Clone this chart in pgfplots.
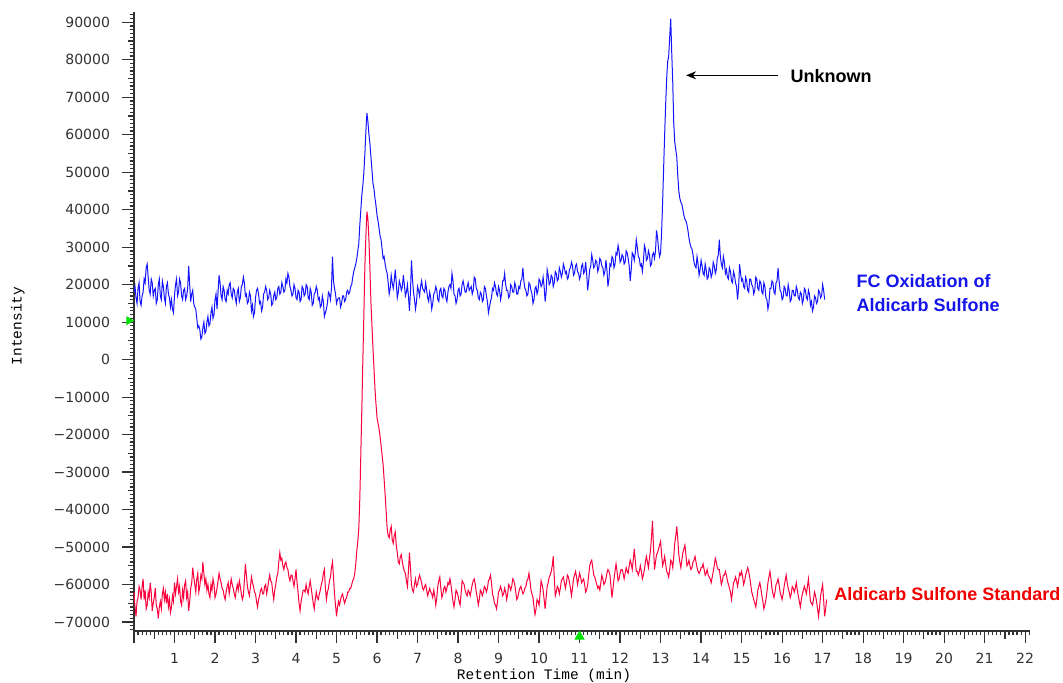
\documentclass[border=0pt]{standalone}
\usepackage{fontspec}
\setmainfont{Liberation Sans}
\newfontfamily\tickfont{DejaVu Sans}
\newfontfamily\monofont{Liberation Mono}
\usepackage{pgfplots}
\pgfplotsset{compat=1.18}
\usetikzlibrary{arrows.meta}
\definecolor{tracebl}{RGB}{20,20,255}
\definecolor{tracerd}{RGB}{250,0,60}
\definecolor{txtbl}{RGB}{20,20,235}
\definecolor{txtrd}{RGB}{240,0,0}
\definecolor{mkgreen}{RGB}{0,225,0}
\definecolor{axgray}{RGB}{50,50,50}
\begin{document}
\begin{tikzpicture}
\begin{axis}[
  at={(0,0)}, anchor=south west,
  scale only axis, width=448pt, height=309.5pt,
  xmin=0, xmax=22.12, ymin=-72400, ymax=92750,
  scaled y ticks=false, scaled x ticks=false,
  axis x line*=bottom, axis y line*=left,
  axis line style={-, axgray, line width=0.7pt},
  tick style={axgray, line width=0.6pt},
  tick align=outside,
  major tick length=6pt, minor tick length=2pt,
  xtick={0,1,...,22},
  xticklabels={{},1,2,3,4,5,6,7,8,9,10,11,12,13,14,15,16,17,18,19,20,21,22},
  minor xtick={0,0.1,...,22.1},
  extra x ticks={0.5,1.5,...,21.5},
  extra x tick labels={},
  extra x tick style={major tick length=4pt},
  ytick={-70000,-60000,...,90000},
  yticklabels={−70000,−60000,−50000,−40000,−30000,−20000,−10000,0,10000,20000,30000,40000,50000,60000,70000,80000,90000},
  minor ytick={-72000,-71000,...,92000},
  extra y ticks={-65000,-55000,...,85000},
  extra y tick labels={},
  extra y tick style={major tick length=3pt},
  tick label style={font=\tickfont\fontsize{7}{8}\selectfont, text=axgray},
  yticklabel style={xshift=-2.5pt},
  xticklabel style={yshift=-1.5pt},
  xlabel={Retention Time (min)},
  ylabel={Intensity},
  x label style={font=\monofont\fontsize{7.25}{8}\selectfont, at={(axis description cs:0.4576,0)}, anchor=center, yshift=-22.5pt},
  y label style={font=\monofont\fontsize{7.25}{8}\selectfont, at={(axis description cs:-0.1295,0.4927)}, anchor=center},
  clip=false,
]
\addplot[tracebl, line width=0.5pt] coordinates {
(0.000,18200)(0.025,19500)(0.050,16500)(0.075,15000)(0.100,19000)(0.125,20500)(0.150,15500)(0.175,14500)(0.200,17000)(0.225,18000)
(0.250,21500)(0.275,20500)(0.300,24500)(0.325,25500)(0.350,22000)(0.375,18500)(0.400,17500)(0.425,21500)(0.450,20500)(0.475,17000)
(0.500,18500)(0.525,19000)(0.550,15000)(0.575,16000)(0.600,20000)(0.625,21500)(0.650,17000)(0.675,16000)(0.700,21000)(0.725,19500)
(0.750,16500)(0.775,15000)(0.800,19500)(0.825,20500)(0.850,17500)(0.875,16500)(0.900,14000)(0.925,16000)(0.950,13500)(0.975,12500)
(1.000,17000)(1.025,20000)(1.050,21500)(1.075,17000)(1.100,18000)(1.125,21500)(1.150,20500)(1.175,17000)(1.200,16000)(1.225,18500)
(1.250,19000)(1.275,16000)(1.300,17000)(1.325,19000)(1.350,25000)(1.375,20000)(1.400,15500)(1.425,17500)(1.450,18500)(1.475,15000)
(1.500,14000)(1.525,13500)(1.550,11000)(1.575,8500)(1.600,9000)(1.625,8000)(1.650,5500)(1.675,6000)(1.700,8500)(1.725,10000)
(1.750,7000)(1.775,7500)(1.800,10000)(1.825,11500)(1.850,9000)(1.875,9500)(1.900,12500)(1.925,14000)(1.950,11000)(1.975,12000)
(2.000,16000)(2.025,17500)(2.050,13500)(2.075,18000)(2.100,22500)(2.125,20500)(2.150,17000)(2.175,16000)(2.200,19500)(2.225,18500)
(2.250,16000)(2.275,15500)(2.300,18500)(2.325,17500)(2.350,20000)(2.375,20500)(2.400,17500)(2.425,16500)(2.450,19000)(2.475,18500)
(2.500,16500)(2.525,15000)(2.550,18000)(2.575,19000)(2.600,15500)(2.625,16500)(2.650,19500)(2.675,20000)(2.700,22000)(2.725,20500)
(2.750,17000)(2.775,17500)(2.800,15000)(2.825,15500)(2.850,18000)(2.875,17000)(2.900,13000)(2.925,14500)(2.950,11500)(2.975,12500)
(3.000,16500)(3.025,18500)(3.050,19000)(3.075,17500)(3.100,15000)(3.125,15500)(3.150,13000)(3.175,14000)(3.200,17500)(3.225,18000)
(3.250,19500)(3.275,18500)(3.300,16000)(3.325,16500)(3.350,18500)(3.375,17500)(3.400,14500)(3.425,15000)(3.450,17000)(3.475,18000)
(3.500,16000)(3.525,16500)(3.550,19000)(3.575,19500)(3.600,17500)(3.625,18000)(3.650,20500)(3.675,19500)(3.700,18000)(3.725,18500)
(3.750,21500)(3.775,20500)(3.800,23000)(3.825,22000)(3.850,19500)(3.875,18500)(3.900,17000)(3.925,17500)(3.950,20000)(3.975,19000)
(4.000,16500)(4.025,16000)(4.050,18500)(4.075,18000)(4.100,15500)(4.125,16000)(4.150,19500)(4.175,19000)(4.200,17000)(4.225,17500)
(4.250,20000)(4.275,19500)(4.300,16500)(4.325,16000)(4.350,19000)(4.375,18000)(4.400,14500)(4.425,15000)(4.450,17500)(4.475,18000)
(4.500,19500)(4.525,18500)(4.550,16000)(4.575,16500)(4.600,14000)(4.625,14500)(4.650,17000)(4.675,15500)(4.700,11500)(4.725,12500)
(4.750,13500)(4.775,15000)(4.800,18000)(4.825,17500)(4.850,16000)(4.875,19000)(4.900,27500)(4.925,21000)(4.950,19000)(4.975,17500)
(5.000,15000)(5.025,16000)(5.050,16500)(5.075,16500)(5.100,14000)(5.125,15000)(5.150,17000)(5.175,17000)(5.200,15500)(5.225,16000)
(5.250,18000)(5.275,18500)(5.300,17500)(5.325,18000)(5.350,19500)(5.375,20000)(5.400,22000)(5.425,23500)(5.450,24500)(5.475,25500)
(5.500,27000)(5.525,29000)(5.550,31000)(5.575,36000)(5.600,40000)(5.625,44000)(5.650,46500)(5.675,50000)(5.700,55000)(5.725,61000)
(5.750,65800)(5.775,63500)(5.800,60000)(5.825,57500)(5.850,54000)(5.875,50500)(5.900,47000)(5.925,45500)(5.950,43000)(5.975,41000)
(6.000,38500)(6.025,37000)(6.050,35000)(6.075,33000)(6.100,32000)(6.125,29500)(6.150,27000)(6.175,27500)(6.200,25500)(6.225,24000)
(6.250,23000)(6.275,20500)(6.300,17500)(6.325,19000)(6.350,22500)(6.375,20500)(6.400,19000)(6.425,21000)(6.450,24000)(6.475,20500)
(6.500,16500)(6.525,18000)(6.550,21000)(6.575,20000)(6.600,18500)(6.625,19500)(6.650,22500)(6.675,20000)(6.700,17000)(6.725,18000)
(6.750,20000)(6.775,17000)(6.800,13000)(6.825,18000)(6.850,26500)(6.875,21500)(6.900,18000)(6.925,16000)(6.950,13500)(6.975,15500)
(7.000,19500)(7.025,18500)(7.050,17000)(7.075,19500)(7.100,21000)(7.125,19000)(7.150,18500)(7.175,18000)(7.200,20500)(7.225,18500)
(7.250,16500)(7.275,15500)(7.300,18000)(7.325,16500)(7.350,13500)(7.375,15000)(7.400,17500)(7.425,18000)(7.450,19500)(7.475,18500)
(7.500,16000)(7.525,15500)(7.550,18500)(7.575,19000)(7.600,17000)(7.625,16500)(7.650,19000)(7.675,18500)(7.700,16500)(7.725,15500)
(7.750,18000)(7.775,19500)(7.800,20000)(7.825,19000)(7.850,23000)(7.875,21000)(7.900,17500)(7.925,17000)(7.950,15000)(7.975,16000)
(8.000,18500)(8.025,19000)(8.050,17000)(8.075,17500)(8.100,20000)(8.125,21000)(8.150,19500)(8.175,18000)(8.200,18000)(8.225,19500)
(8.250,20500)(8.275,18500)(8.300,19000)(8.325,19500)(8.350,17500)(8.375,18500)(8.400,22000)(8.425,21500)(8.450,19000)(8.475,18500)
(8.500,16500)(8.525,16000)(8.550,18000)(8.575,17500)(8.600,15500)(8.625,16000)(8.650,19500)(8.675,19000)(8.700,17000)(8.725,15500)
(8.750,12500)(8.775,14000)(8.800,15500)(8.825,16500)(8.850,19000)(8.875,18500)(8.900,20500)(8.925,19500)(8.950,17500)(8.975,17000)
(9.000,19500)(9.025,18500)(9.050,16000)(9.075,17500)(9.100,21000)(9.125,21000)(9.150,23000)(9.175,20000)(9.200,18500)(9.225,18500)
(9.250,16500)(9.275,17000)(9.300,20000)(9.325,19500)(9.350,18000)(9.375,18000)(9.400,20500)(9.425,19500)(9.450,17500)(9.475,17500)
(9.500,19500)(9.525,19000)(9.550,21000)(9.575,21500)(9.600,24500)(9.625,21000)(9.650,19000)(9.675,18500)(9.700,17000)(9.725,17500)
(9.750,20500)(9.775,20000)(9.800,18500)(9.825,17500)(9.850,15000)(9.875,16000)(9.900,19000)(9.925,19500)(9.950,17500)(9.975,18500)
(10.000,21500)(10.025,21000)(10.050,19500)(10.075,20000)(10.100,22000)(10.125,19500)(10.150,15500)(10.175,18000)(10.200,24000)(10.225,22500)
(10.250,20000)(10.275,20500)(10.300,22500)(10.325,22000)(10.350,19500)(10.375,20500)(10.400,23500)(10.425,23000)(10.450,21000)(10.475,21500)
(10.500,24500)(10.525,23500)(10.550,22000)(10.575,23000)(10.600,25500)(10.625,24500)(10.650,23000)(10.675,23500)(10.700,21500)(10.725,22000)
(10.750,24000)(10.775,24500)(10.800,26000)(10.825,25000)(10.850,22500)(10.875,23000)(10.900,25000)(10.925,25500)(10.950,23500)(10.975,23000)
(11.000,21500)(11.025,22500)(11.050,25000)(11.075,25500)(11.100,23000)(11.125,23500)(11.150,26000)(11.175,23000)(11.200,18500)(11.225,21000)
(11.250,24000)(11.275,25000)(11.300,28000)(11.325,26500)(11.350,24500)(11.375,25000)(11.400,26500)(11.425,26000)(11.450,23500)(11.475,24500)
(11.500,27000)(11.525,26500)(11.550,25000)(11.575,24500)(11.600,22500)(11.625,23500)(11.650,26500)(11.675,24000)(11.700,19500)(11.725,21500)
(11.750,25500)(11.775,25000)(11.800,27500)(11.825,27000)(11.850,24500)(11.875,25500)(11.900,28500)(11.925,28000)(11.950,30500)(11.975,29000)
(12.000,26000)(12.025,26500)(12.050,28000)(12.075,27500)(12.100,25500)(12.125,26000)(12.150,29000)(12.175,28500)(12.200,27000)(12.225,25000)
(12.250,21000)(12.275,24000)(12.300,28500)(12.325,28000)(12.350,26500)(12.375,28500)(12.400,32000)(12.425,30000)(12.450,27500)(12.475,27000)
(12.500,25000)(12.525,25500)(12.550,23500)(12.575,26000)(12.600,30500)(12.625,29500)(12.650,26500)(12.675,27000)(12.700,29000)(12.725,28000)
(12.750,25000)(12.775,25500)(12.800,28000)(12.825,28500)(12.850,27000)(12.875,29000)(12.900,34500)(12.925,32500)(12.950,29500)(12.975,27500)
(13.000,28500)(13.025,34000)(13.050,42000)(13.075,51000)(13.100,60000)(13.125,68000)(13.150,75000)(13.175,79500)(13.200,81000)(13.225,86000)
(13.250,91000)(13.275,82000)(13.300,74000)(13.325,63000)(13.350,58000)(13.375,56000)(13.400,54000)(13.425,49000)(13.450,45000)(13.475,43000)
(13.500,42000)(13.525,41500)(13.550,40000)(13.575,38500)(13.600,37500)(13.625,37000)(13.650,36000)(13.675,34500)(13.700,32500)(13.725,31000)
(13.750,30000)(13.775,29500)(13.800,28000)(13.825,26000)(13.850,25000)(13.875,24500)(13.900,27500)(13.925,25500)(13.950,22500)(13.975,24000)
(14.000,26500)(14.025,25000)(14.050,23000)(14.075,22500)(14.100,25500)(14.125,24000)(14.150,21500)(14.175,22000)(14.200,24500)(14.225,24000)
(14.250,22000)(14.275,23000)(14.300,26000)(14.325,25000)(14.350,23000)(14.375,24000)(14.400,27000)(14.425,28000)(14.450,32000)(14.475,27500)
(14.500,25500)(14.525,24500)(14.550,27500)(14.575,26000)(14.600,23000)(14.625,24000)(14.650,22000)(14.675,21500)(14.700,24500)(14.725,23500)
(14.750,21000)(14.775,20500)(14.800,23500)(14.825,22500)(14.850,20500)(14.875,19500)(14.900,16000)(14.925,19000)(14.950,25500)(14.975,23000)
(15.000,21000)(15.025,21500)(15.050,19500)(15.075,19000)(15.100,22000)(15.125,21000)(15.150,18500)(15.175,18000)(15.200,21500)(15.225,21500)
(15.250,20000)(15.275,19500)(15.300,17500)(15.325,18500)(15.350,22000)(15.375,21500)(15.400,19000)(15.425,18500)(15.450,21000)(15.475,20500)
(15.500,18000)(15.525,17500)(15.550,20500)(15.575,19500)(15.600,16500)(15.625,16000)(15.650,13500)(15.675,15000)(15.700,19000)(15.725,19000)
(15.750,21000)(15.775,20500)(15.800,18000)(15.825,17500)(15.850,20500)(15.875,21000)(15.900,24500)(15.925,21000)(15.950,18500)(15.975,18000)
(16.000,16000)(16.025,16500)(16.050,19500)(16.075,19000)(16.100,17000)(16.125,17000)(16.150,20000)(16.175,18500)(16.200,15500)(16.225,16000)
(16.250,18500)(16.275,18500)(16.300,17000)(16.325,17000)(16.350,19500)(16.375,18500)(16.400,16500)(16.425,16000)(16.450,18000)(16.475,17500)
(16.500,15000)(16.525,16000)(16.550,19000)(16.575,18500)(16.600,16500)(16.625,16000)(16.650,18500)(16.675,17500)(16.700,14500)(16.725,15500)
(16.750,13000)(16.775,14000)(16.800,17000)(16.825,16500)(16.850,15000)(16.875,15500)(16.900,18500)(16.925,18000)(16.950,16500)(16.975,17000)
(17.000,20000)(17.025,18500)(17.050,16000)
};
\addplot[tracerd, line width=0.5pt] coordinates {
(0.000,-62000)(0.025,-66000)(0.050,-68500)(0.075,-64500)(0.100,-63500)(0.125,-60500)(0.150,-61500)(0.175,-64000)(0.200,-60500)(0.225,-58500)
(0.250,-64000)(0.275,-61500)(0.300,-66500)(0.325,-65500)(0.350,-62000)(0.375,-63500)(0.400,-59500)(0.425,-62000)(0.450,-67000)(0.475,-65000)
(0.500,-63500)(0.525,-61000)(0.550,-65500)(0.575,-66500)(0.600,-69000)(0.625,-66000)(0.650,-64500)(0.675,-66500)(0.700,-62500)(0.725,-61000)
(0.750,-64000)(0.775,-62000)(0.800,-65000)(0.825,-62500)(0.850,-66000)(0.875,-64000)(0.900,-67500)(0.925,-66000)(0.950,-63000)(0.975,-64500)
(1.000,-59500)(1.025,-62500)(1.050,-60500)(1.075,-58500)(1.100,-62000)(1.125,-60500)(1.150,-64500)(1.175,-65500)(1.200,-61500)(1.225,-63500)
(1.250,-60000)(1.275,-59000)(1.300,-63500)(1.325,-62000)(1.350,-67000)(1.375,-64500)(1.400,-61000)(1.425,-59500)(1.450,-55500)(1.475,-58000)
(1.500,-60000)(1.525,-62000)(1.550,-58500)(1.575,-57000)(1.600,-62000)(1.625,-60500)(1.650,-57500)(1.675,-58500)(1.700,-54000)(1.725,-57000)
(1.750,-60000)(1.775,-58500)(1.800,-61500)(1.825,-60000)(1.850,-62500)(1.875,-63500)(1.900,-60000)(1.925,-61500)(1.950,-58500)(1.975,-60000)
(2.000,-63500)(2.025,-62500)(2.050,-61000)(2.075,-59000)(2.100,-57000)(2.125,-58500)(2.150,-59500)(2.175,-61000)(2.200,-61500)(2.225,-63000)
(2.250,-64000)(2.275,-62000)(2.300,-60500)(2.325,-59500)(2.350,-62500)(2.375,-60500)(2.400,-58500)(2.425,-60000)(2.450,-61000)(2.475,-62500)
(2.500,-63500)(2.525,-61500)(2.550,-60000)(2.575,-61500)(2.600,-59000)(2.625,-60500)(2.650,-62500)(2.675,-64000)(2.700,-63000)(2.725,-59000)
(2.750,-54500)(2.775,-57500)(2.800,-60500)(2.825,-62000)(2.850,-63000)(2.875,-60500)(2.900,-58000)(2.925,-59500)(2.950,-60500)(2.975,-62000)
(3.000,-62500)(3.025,-64500)(3.050,-66000)(3.075,-64000)(3.100,-63000)(3.125,-61500)(3.150,-61000)(3.175,-62500)(3.200,-62500)(3.225,-60500)
(3.250,-60000)(3.275,-62500)(3.300,-61000)(3.325,-59000)(3.350,-57500)(3.375,-59000)(3.400,-59500)(3.425,-62000)(3.450,-64000)(3.475,-61500)
(3.500,-60000)(3.525,-58000)(3.550,-57000)(3.575,-54000)(3.600,-51500)(3.625,-53500)(3.650,-53000)(3.675,-55000)(3.700,-56000)(3.725,-54500)
(3.750,-54000)(3.775,-55500)(3.800,-56000)(3.825,-58000)(3.850,-59000)(3.875,-57500)(3.900,-57500)(3.925,-59000)(3.950,-60500)(3.975,-58500)
(4.000,-56000)(4.025,-59500)(4.050,-62000)(4.075,-65000)(4.100,-67000)(4.125,-64500)(4.150,-63000)(4.175,-61500)(4.200,-61500)(4.225,-62000)
(4.250,-60000)(4.275,-61500)(4.300,-62500)(4.325,-60500)(4.350,-59000)(4.375,-61000)(4.400,-63000)(4.425,-65000)(4.450,-66500)(4.475,-64000)
(4.500,-62000)(4.525,-63500)(4.550,-64000)(4.575,-62500)(4.600,-61500)(4.625,-60000)(4.650,-59000)(4.675,-57000)(4.700,-56000)(4.725,-61000)
(4.750,-64000)(4.775,-62000)(4.800,-61000)(4.825,-59000)(4.850,-58000)(4.875,-55500)(4.900,-54000)(4.925,-58000)(4.950,-62500)(4.975,-65500)
(5.000,-68500)(5.025,-66000)(5.050,-64500)(5.075,-65500)(5.100,-64000)(5.125,-63000)(5.150,-62500)(5.175,-64000)(5.200,-65000)(5.225,-64000)
(5.250,-63500)(5.275,-62000)(5.300,-62000)(5.325,-61000)(5.350,-61000)(5.375,-60000)(5.400,-59000)(5.425,-58500)(5.450,-57000)(5.475,-54500)
(5.500,-51000)(5.525,-48500)(5.550,-45000)(5.575,-37000)(5.600,-25000)(5.625,-13000)(5.650,0)(5.675,12000)(5.700,25000)(5.725,33000)
(5.750,39500)(5.775,37500)(5.800,32000)(5.825,24000)(5.850,15000)(5.875,9000)(5.900,3000)(5.925,-2500)(5.950,-8000)(5.975,-12000)
(6.000,-15500)(6.025,-17000)(6.050,-18500)(6.075,-20500)(6.100,-23000)(6.125,-25500)(6.150,-28000)(6.175,-32000)(6.200,-36000)(6.225,-40500)
(6.250,-45000)(6.275,-47000)(6.300,-47500)(6.325,-45500)(6.350,-44500)(6.375,-48000)(6.400,-49000)(6.425,-47000)(6.450,-46000)(6.475,-49500)
(6.500,-51500)(6.525,-54000)(6.550,-54500)(6.575,-52500)(6.600,-52000)(6.625,-54000)(6.650,-55500)(6.675,-56500)(6.700,-57000)(6.725,-59000)
(6.750,-60500)(6.775,-56500)(6.800,-51500)(6.825,-55500)(6.850,-60000)(6.875,-61500)(6.900,-62000)(6.925,-60000)(6.950,-58500)(6.975,-60500)
(7.000,-60000)(7.025,-58500)(7.050,-57500)(7.075,-58500)(7.100,-59500)(7.125,-61000)(7.150,-61500)(7.175,-60500)(7.200,-60000)(7.225,-61500)
(7.250,-63000)(7.275,-62000)(7.300,-61000)(7.325,-62000)(7.350,-62500)(7.375,-63500)(7.400,-61500)(7.425,-63000)(7.450,-65500)(7.475,-63500)
(7.500,-60500)(7.525,-59000)(7.550,-58000)(7.575,-61000)(7.600,-63500)(7.625,-62500)(7.650,-61000)(7.675,-60500)(7.700,-62000)(7.725,-61000)
(7.750,-59500)(7.775,-60000)(7.800,-58500)(7.825,-60000)(7.850,-62500)(7.875,-64500)(7.900,-66000)(7.925,-64000)(7.950,-61500)(7.975,-62000)
(8.000,-63000)(8.025,-64500)(8.050,-65500)(8.075,-62500)(8.100,-59000)(8.125,-59500)(8.150,-60000)(8.175,-61500)(8.200,-62500)(8.225,-63000)
(8.250,-61500)(8.275,-62000)(8.300,-63000)(8.325,-61500)(8.350,-60000)(8.375,-59000)(8.400,-58500)(8.425,-60000)(8.450,-62000)(8.475,-63500)
(8.500,-65500)(8.525,-64000)(8.550,-61500)(8.575,-62000)(8.600,-63000)(8.625,-62000)(8.650,-60500)(8.675,-61000)(8.700,-62000)(8.725,-61000)
(8.750,-59000)(8.775,-58500)(8.800,-57500)(8.825,-59500)(8.850,-62500)(8.875,-63500)(8.900,-65000)(8.925,-65500)(8.950,-66500)(8.975,-64500)
(9.000,-62000)(9.025,-61500)(9.050,-60500)(9.075,-61500)(9.100,-63000)(9.125,-62500)(9.150,-61000)(9.175,-62000)(9.200,-64000)(9.225,-62500)
(9.250,-60000)(9.275,-60500)(9.300,-61500)(9.325,-60500)(9.350,-58500)(9.375,-59000)(9.400,-60000)(9.425,-62000)(9.450,-64000)(9.475,-63500)
(9.500,-62000)(9.525,-61000)(9.550,-60500)(9.575,-61500)(9.600,-62500)(9.625,-62000)(9.650,-61000)(9.675,-60500)(9.700,-59000)(9.725,-58500)
(9.750,-57000)(9.775,-59000)(9.800,-61500)(9.825,-62500)(9.850,-63500)(9.875,-66000)(9.900,-68000)(9.925,-66500)(9.950,-64000)(9.975,-64500)
(10.000,-65500)(10.025,-62500)(10.050,-59000)(10.075,-60000)(10.100,-61500)(10.125,-64000)(10.150,-66500)(10.175,-63500)(10.200,-60500)(10.225,-59500)
(10.250,-58000)(10.275,-57500)(10.300,-56500)(10.325,-55000)(10.350,-52500)(10.375,-58000)(10.400,-63000)(10.425,-62000)(10.450,-60500)(10.475,-61000)
(10.500,-62500)(10.525,-61000)(10.550,-59000)(10.575,-58500)(10.600,-58000)(10.625,-59500)(10.650,-61000)(10.675,-59500)(10.700,-57500)(10.725,-58000)
(10.750,-59500)(10.775,-61000)(10.800,-63000)(10.825,-61000)(10.850,-58500)(10.875,-57500)(10.900,-56500)(10.925,-58000)(10.950,-60000)(10.975,-58500)
(11.000,-57000)(11.025,-58000)(11.050,-59500)(11.075,-59000)(11.100,-58500)(11.125,-60000)(11.150,-62000)(11.175,-61500)(11.200,-60000)(11.225,-57500)
(11.250,-55000)(11.275,-54000)(11.300,-53500)(11.325,-55500)(11.350,-57500)(11.375,-58000)(11.400,-59000)(11.425,-60000)(11.450,-61000)(11.475,-60500)
(11.500,-61500)(11.525,-59500)(11.550,-57500)(11.575,-58500)(11.600,-60000)(11.625,-59500)(11.650,-58500)(11.675,-57000)(11.700,-56000)(11.725,-56500)
(11.750,-57500)(11.775,-60500)(11.800,-63500)(11.825,-61000)(11.850,-58500)(11.875,-56500)(11.900,-54500)(11.925,-56500)(11.950,-59000)(11.975,-58500)
(12.000,-57000)(12.025,-56000)(12.050,-56000)(12.075,-57000)(12.100,-58500)(12.125,-57000)(12.150,-55500)(12.175,-56500)(12.200,-57000)(12.225,-55000)
(12.250,-53500)(12.275,-54500)(12.300,-56000)(12.325,-53500)(12.350,-50500)(12.375,-53500)(12.400,-56500)(12.425,-56500)(12.450,-57500)(12.475,-56500)
(12.500,-55000)(12.525,-56500)(12.550,-58500)(12.575,-57500)(12.600,-56000)(12.625,-54000)(12.650,-52500)(12.675,-54000)(12.700,-55500)(12.725,-53000)
(12.750,-51000)(12.775,-47500)(12.800,-43000)(12.825,-50000)(12.850,-56000)(12.875,-54000)(12.900,-52000)(12.925,-51500)(12.950,-50500)(12.975,-49500)
(13.000,-48500)(13.025,-52000)(13.050,-55000)(13.075,-54000)(13.100,-52500)(13.125,-54500)(13.150,-56500)(13.175,-57000)(13.200,-58000)(13.225,-56000)
(13.250,-53500)(13.275,-54000)(13.300,-55500)(13.325,-52500)(13.350,-49000)(13.375,-47000)(13.400,-44500)(13.425,-48000)(13.450,-52000)(13.475,-54000)
(13.500,-55500)(13.525,-53500)(13.550,-51500)(13.575,-50500)(13.600,-49500)(13.625,-52000)(13.650,-55000)(13.675,-54500)(13.700,-53500)(13.725,-55000)
(13.750,-56000)(13.775,-55500)(13.800,-54000)(13.825,-53500)(13.850,-52500)(13.875,-54000)(13.900,-55500)(13.925,-56500)(13.950,-57000)(13.975,-56500)
(14.000,-55500)(14.025,-55500)(14.050,-54500)(14.075,-56000)(14.100,-57500)(14.125,-57000)(14.150,-56000)(14.175,-57500)(14.200,-58000)(14.225,-58500)
(14.250,-59500)(14.275,-58000)(14.300,-56500)(14.325,-55000)(14.350,-53000)(14.375,-54000)(14.400,-55500)(14.425,-56000)(14.450,-56000)(14.475,-58000)
(14.500,-60000)(14.525,-59000)(14.550,-57500)(14.575,-57500)(14.600,-56500)(14.625,-57500)(14.650,-59000)(14.675,-60000)(14.700,-61000)(14.725,-62000)
(14.750,-64000)(14.775,-62000)(14.800,-59500)(14.825,-59000)(14.850,-58000)(14.875,-59000)(14.900,-60500)(14.925,-59000)(14.950,-57000)(14.975,-57500)
(15.000,-56500)(15.025,-58000)(15.050,-60000)(15.075,-59000)(15.100,-57500)(15.125,-56500)(15.150,-55500)(15.175,-56500)(15.200,-58000)(15.225,-60000)
(15.250,-62000)(15.275,-63000)(15.300,-64000)(15.325,-65000)(15.350,-66000)(15.375,-64000)(15.400,-61500)(15.425,-60500)(15.450,-59500)(15.475,-61000)
(15.500,-63000)(15.525,-64500)(15.550,-66500)(15.575,-65500)(15.600,-64000)(15.625,-62000)(15.650,-59500)(15.675,-58000)(15.700,-56500)(15.725,-58500)
(15.750,-61000)(15.775,-62500)(15.800,-63500)(15.825,-62000)(15.850,-60000)(15.875,-59500)(15.900,-58500)(15.925,-60000)(15.950,-62000)(15.975,-63000)
(16.000,-64000)(16.025,-62500)(16.050,-60500)(16.075,-59000)(16.100,-57500)(16.125,-59500)(16.150,-61000)(16.175,-62000)(16.200,-63500)(16.225,-62500)
(16.250,-60500)(16.275,-61000)(16.300,-62000)(16.325,-61000)(16.350,-59500)(16.375,-61500)(16.400,-63000)(16.425,-64500)(16.450,-66000)(16.475,-64000)
(16.500,-62500)(16.525,-61500)(16.550,-60500)(16.575,-61500)(16.600,-62500)(16.625,-60500)(16.650,-58500)(16.675,-61500)(16.700,-64500)(16.725,-65000)
(16.750,-65500)(16.775,-64000)(16.800,-62000)(16.825,-63000)(16.850,-64500)(16.875,-66500)(16.900,-68500)(16.925,-66000)(16.950,-63000)(16.975,-61500)
(17.000,-60000)(17.025,-64000)(17.050,-68500)(17.075,-66500)(17.100,-64000)
};
\addplot[only marks, mark=triangle*, mark size=2.6pt, mkgreen, every mark/.append style={yshift=-2.8pt}] coordinates {(11,-72400)};
\addplot[only marks, mark=triangle*, mark size=2.2pt, mkgreen, every mark/.append style={xshift=-2.5pt, rotate=-90}] coordinates {(0,10400)};
\draw[black, line width=0.5pt, -{Stealth[length=5pt,width=4pt]}] (axis cs:15.9,75850) -- (axis cs:13.63,75850);
\node[anchor=west, inner sep=0pt, font=\bfseries\fontsize{9}{11}\selectfont, text=black] at (axis cs:16.2,75580) {Unknown};
\node[anchor=west, inner sep=0pt, align=left, font=\bfseries\fontsize{9}{12}\selectfont, text=txtbl] at (axis cs:17.83,17880) {FC Oxidation of\\Aldicarb Sulfone};
\node[anchor=east, inner sep=0pt, font=\bfseries\fontsize{9}{11}\selectfont, text=txtrd] at (axis cs:22.88,-62520) {Aldicarb Sulfone Standard};
\end{axis}
\pgfresetboundingbox
\path[use as bounding box] (-67pt,-26pt) rectangle (464.5pt,315.5pt);
\end{tikzpicture}
\end{document}
